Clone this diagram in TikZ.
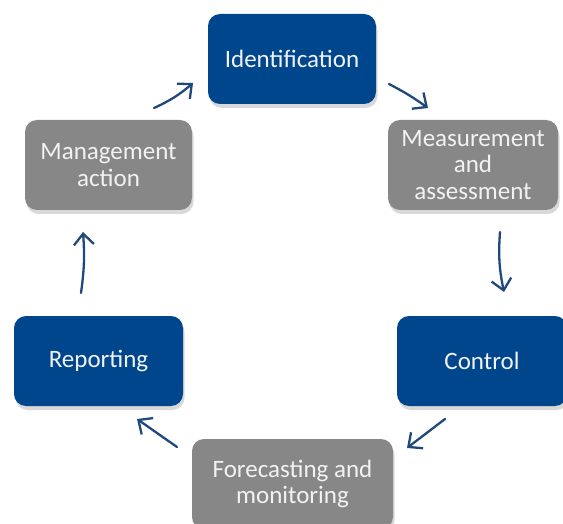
\documentclass[tikz,border=0pt]{standalone}
\usepackage{fontspec}
\setmainfont{Carlito}
\usetikzlibrary{arrows.meta,shadows}
\definecolor{boxblue}{RGB}{0,70,140}
\definecolor{boxgray}{RGB}{135,135,135}
\definecolor{arrowblue}{RGB}{31,73,125}
\definecolor{txt}{RGB}{242,242,242}
\tikzset{
  box/.style={rounded corners=12pt, minimum height=90pt, text=txt, align=center,
    font=\fontsize{25}{26.5}\selectfont, inner sep=2pt,
    drop shadow={opacity=0.3, shadow xshift=1.5pt, shadow yshift=-4pt}},
  bluebox/.style={box, fill=boxblue},
  graybox/.style={box, fill=boxgray},
  flow/.style={draw=arrowblue, line width=2.3pt, line cap=round,
    -{Straight Barb[length=11pt,width=20pt,line width=2.3pt]}}
}
\begin{document}
\begin{tikzpicture}[x=1pt,y=-1pt]
\useasboundingbox (0,0) rectangle (563,524);
\clip (0,0) rectangle (563,524);
\node[bluebox, minimum width=168pt] (ident) at (292,59) {Identification};
\node[graybox, minimum width=170pt] (meas) at (473,165) {Measurement\\and\\assessment};
\node[bluebox, minimum width=170pt] (ctrl) at (482,361) {Control};
\node[graybox, minimum width=201pt] (fore) at (292.5,484) {Forecasting and\\monitoring};
\node[bluebox, minimum width=169pt] (rep) at (98.5,361) {Reporting};
\node[graybox, minimum width=167pt] (mgmt) at (108.5,165) {Management\\action};
\coordinate (a1s) at (154,108); \coordinate (a1e) at (193,83);
\coordinate (a2s) at (389,84);  \coordinate (a2e) at (428,108);
\coordinate (a3s) at (500,232); \coordinate (a3e) at (504,292);
\coordinate (a4s) at (445,419); \coordinate (a4e) at (407,448);
\coordinate (a5s) at (177,447); \coordinate (a5e) at (137,419);
\coordinate (a6s) at (81,293);  \coordinate (a6e) at (83,232);
\draw[flow] (a1s) to[bend right=8] (a1e);
\draw[flow] (a2s) to[bend left=4] (a2e);
\draw[flow] (a3s) to[bend right=8] (a3e);
\draw[flow] (a4s) -- (a4e);
\draw[flow] (a5s) -- (a5e);
\draw[flow] (a6s) to[bend right=6] (a6e);
\end{tikzpicture}
\end{document}
